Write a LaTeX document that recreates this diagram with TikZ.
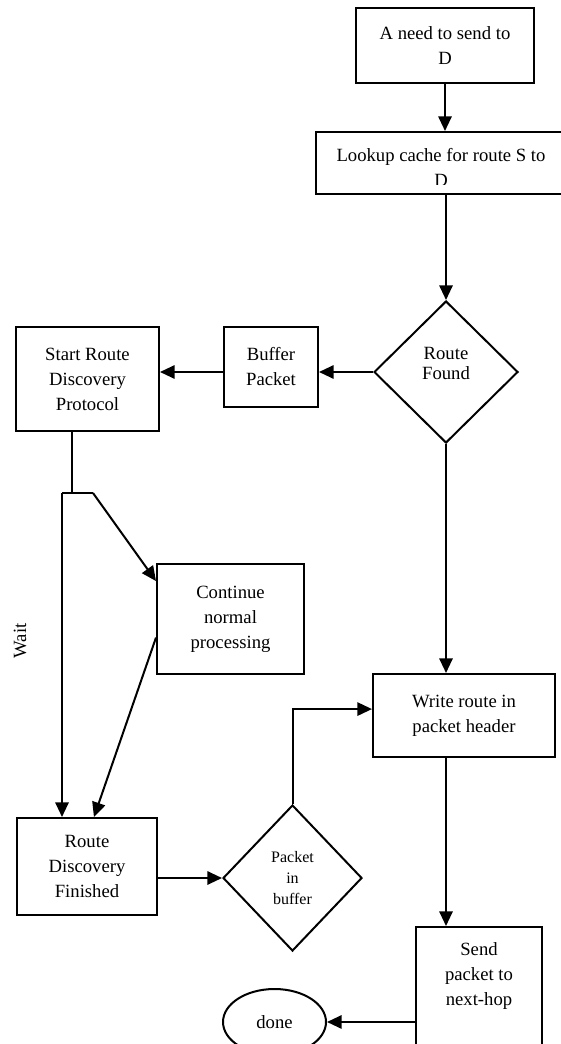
\documentclass[tikz,border=0pt]{standalone}
\usepackage{fontspec}
\setmainfont{Liberation Serif}
\usetikzlibrary{arrows.meta,shapes.geometric}

\tikzset{every picture/.style={line width=1.5pt}}
\tikzset{
procbox/.style={draw, rectangle, inner sep=0pt, align=center, font=\fontsize{14}{18.75}\selectfont},
decbox/.style={draw, diamond, aspect=1, inner sep=0pt, align=center, font=\fontsize{14}{15}\selectfont},
endbox/.style={draw, ellipse, inner sep=0pt, font=\fontsize{14}{18.75}\selectfont},
flowarr/.style={-{Triangle[length=11pt,width=10pt]}},
}

\begin{document}
\begin{tikzpicture}[x=0.75pt,y=0.75pt,yscale=-1,xscale=1]
\useasboundingbox (0,0) rectangle (560,1044);

%Shape: Rectangle
\draw (445,45.5) node (need) [procbox, minimum width=133.5pt, minimum height=56.25pt] {A need to send to\\D};
%Shape: Rectangle
\draw (443,163) node (lookup) [procbox, minimum width=190.5pt, minimum height=46.5pt] {};
\coordinate (lookupcut) at (570,185);
\begin{scope}
\clip (lookup.north west) rectangle (lookupcut);
% Text Node
\draw (441,167.5) node (lookuptxt) [procbox, draw=none] {Lookup cache for route S to\\D};
\end{scope}
%Shape: Diamond
\draw (446,372) node (found) [decbox, minimum width=108pt, minimum height=106.5pt,
  label={[name=foundtxt, align=center, font=\fontsize{14}{15}\selectfont, yshift=6.75pt]center:Route\\Found}] {};
%Shape: Rectangle
\draw (271,367) node (buffer) [procbox, minimum width=70.5pt, minimum height=60pt] {Buffer\\Packet};
%Shape: Rectangle
\draw (87.5,379) node (start) [procbox, minimum width=107.25pt, minimum height=78pt] {Start Route\\Discovery\\Protocol};
%Shape: Rectangle
\draw (230.5,619) node (cont) [procbox, minimum width=110.25pt, minimum height=82.5pt] {Continue\\normal\\processing};
%Shape: Rectangle
\draw (87,866.5) node (finished) [procbox, minimum width=105pt, minimum height=72.75pt] {Route\\Discovery\\Finished};
%Shape: Diamond
\draw (292.5,878) node (inbuf) [decbox, font=\fontsize{12}{16}\selectfont, minimum width=104.25pt, minimum height=109.5pt] {Packet\\in\\buffer};
%Shape: Rectangle
\draw (464,715.5) node (write) [procbox, minimum width=136.5pt, minimum height=62.25pt] {Write route in\\packet header};
%Shape: Rectangle
\draw (479,986.5) node (send) [procbox, minimum width=94.5pt, minimum height=89.25pt] {Send\\packet to\\next-hop\\\mbox{}};
%Shape: Ellipse
\draw (274.5,1022) node (done) [endbox, minimum width=77.25pt, minimum height=49.5pt] {done};
% Text Node
\draw (20,641) node (wait) [rotate=90, font=\fontsize{14}{18.75}\selectfont] {Wait};

%Straight Lines
\draw [flowarr] (need.south) -- (need.south |- lookup.north);
\draw [flowarr] (found.north |- lookup.south) -- (found.north);
\draw [flowarr] (found.west) -- (found.west -| buffer.east);
\draw [flowarr] (buffer.west |- found.west) -- (found.west -| start.east);
%Straight Lines
\coordinate (split) at (72,493);
\coordinate (splitl) at (62,493);
\coordinate (splitr) at (93,493);
\draw (start.south -| split) -- (split);
\draw (splitl) -- (splitr);
\draw [flowarr] (splitl) -- (splitl |- finished.north);
\draw [flowarr] (splitr) -- (cont.153);
\draw [flowarr] (cont.194) -- (finished.82);
%Straight Lines
\draw [flowarr] (finished.east |- inbuf.west) -- (inbuf.west);
\draw [flowarr] (inbuf.north) |- (write.176);
\draw [flowarr] (found.south) -- (found.south |- write.north);
\draw [flowarr] (found.south |- write.south) -- (found.south |- send.north);
\draw [flowarr] (send.209) -- (send.209 -| done.east);

\end{tikzpicture}
\end{document}
